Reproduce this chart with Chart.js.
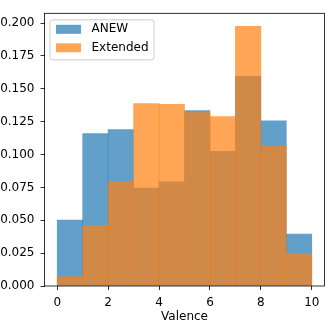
<!DOCTYPE html>
<html>
<head>
<meta charset="utf-8">
<script src="https://cdn.jsdelivr.net/npm/chart.js@4"></script>
<style>
  body { margin: 0; background: #fff; }
  canvas { display: block; }
</style>
</head>
<body>
<canvas id="hist" width="332" height="324"></canvas>
<script>
// bin centres (bins are 0-1, 1-2, ... 9-10)
const binCenters = [0.5, 1.5, 2.5, 3.5, 4.5, 5.5, 6.5, 7.5, 8.5, 9.5];
const anewValues = [0.0501, 0.116, 0.119, 0.0744, 0.0792, 0.1334, 0.1025, 0.1595, 0.1256, 0.0395];
const extendedValues = [0.0071, 0.0461, 0.0795, 0.1387, 0.1382, 0.1319, 0.1289, 0.1975, 0.1066, 0.0248];
const xTicks = [0, 2, 4, 6, 8, 10];
const yTicks = [0, 0.025, 0.05, 0.075, 0.1, 0.125, 0.15, 0.175, 0.2];
const seriesNames = ["ANEW", "Extended"];
const seriesColors = ["rgba(31, 119, 180, 0.7)", "rgba(255, 127, 14, 0.7)"];

const FONT = "'DejaVu Sans', sans-serif";

const toPoints = (values) => values.map((v, i) => ({ x: binCenters[i], y: v }));

// matplotlib style frame + legend box inside the axes
const framePlugin = {
  id: "frame",
  afterDraw(chart) {
    const { ctx, chartArea } = chart;
    const { left, top, right, bottom } = chartArea;
    ctx.save();
    ctx.strokeStyle = "#000";
    ctx.lineWidth = 0.8;
    ctx.strokeRect(left, top, right - left, bottom - top);

    // legend
    const lx = left + 5.5, ly = top + 6.5, lw = 104, lh = 40;
    ctx.fillStyle = "rgba(255,255,255,0.8)";
    ctx.strokeStyle = "#cccccc";
    ctx.lineWidth = 1;
    ctx.beginPath();
    ctx.roundRect(lx, ly, lw, lh, 2.5);
    ctx.fill();
    ctx.stroke();

    ctx.font = "12px " + FONT;
    ctx.textBaseline = "middle";
    seriesNames.forEach((name, i) => {
      const rowY = ly + 9.5 + i * 18.5;
      ctx.fillStyle = seriesColors[i];
      ctx.fillRect(lx + 6, rowY - 4.5, 25, 9);
      ctx.fillStyle = "#000";
      ctx.fillText(name, lx + 41.5, rowY);
    });
    ctx.restore();
  },
};

const config = {
  type: "bar",
  data: {
    datasets: [
      {
        label: seriesNames[0],
        data: toPoints(anewValues),
        backgroundColor: seriesColors[0],
        order: 1,
      },
      {
        label: seriesNames[1],
        data: toPoints(extendedValues),
        backgroundColor: seriesColors[1],
        order: 0,
      },
    ],
  },
  options: {
    responsive: false,
    animation: false,
    devicePixelRatio: 1,
    layout: { padding: { left: 0, right: 7.5, top: 13.3, bottom: 0 } },
    datasets: {
      bar: {
        grouped: false,
        barPercentage: 1,
        categoryPercentage: 1,
        borderWidth: 0,
      },
    },
    plugins: {
      legend: { display: false },
      tooltip: { enabled: false },
    },
    scales: {
      x: {
        type: "linear",
        offset: false,
        min: -0.5,
        max: 10.5,
        afterBuildTicks: (scale) => {
          scale.ticks = xTicks.map((v) => ({ value: v }));
        },
        afterFit: (scale) => {
          scale.height = 38;
        },
        grid: {
          offset: false,
          drawOnChartArea: false,
          drawTicks: true,
          tickLength: 4,
          tickColor: "#000",
          tickWidth: 0.8,
        },
        border: { display: false },
        ticks: {
          color: "#000",
          font: { family: FONT, size: 12 },
          padding: 5.5,
          maxRotation: 0,
          callback: (v) => String(v),
        },
        title: {
          display: true,
          text: "Valence",
          color: "#000",
          font: { family: FONT, size: 12 },
          padding: { top: 0, bottom: 0 },
        },
      },
      y: {
        min: 0,
        max: 0.2074,
        afterBuildTicks: (scale) => {
          scale.ticks = yTicks.map((v) => ({ value: v }));
        },
        afterFit: (scale) => {
          scale.width = 44.5;
        },
        grid: {
          drawOnChartArea: false,
          drawTicks: true,
          tickLength: 4,
          tickColor: "#000",
          tickWidth: 0.8,
        },
        border: { display: false },
        ticks: {
          color: "#000",
          font: { family: FONT, size: 12 },
          padding: 6,
          callback: (v) => Number(v).toFixed(3),
        },
      },
    },
  },
  plugins: [framePlugin],
};

new Chart(document.getElementById("hist"), config);
</script>
</body>
</html>
